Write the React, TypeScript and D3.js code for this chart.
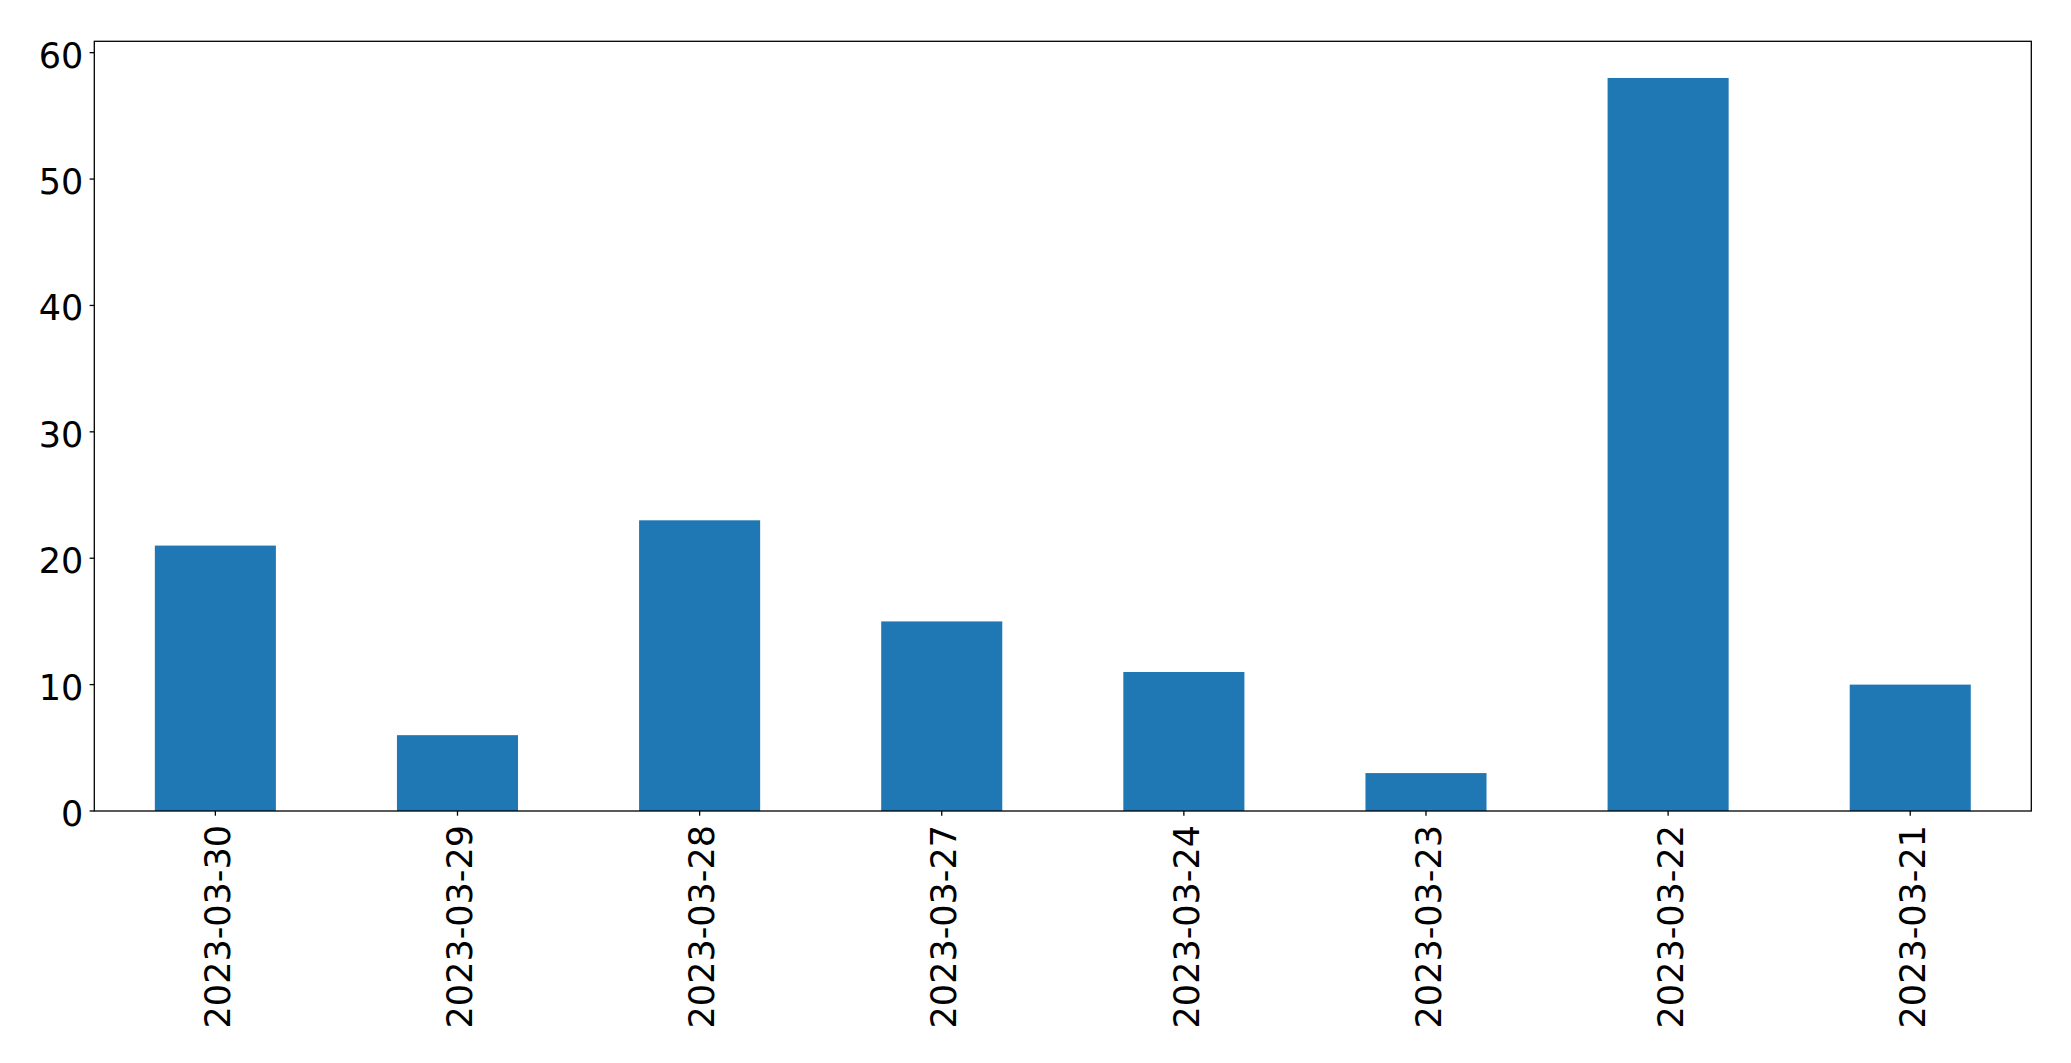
import React from "react";
import * as d3 from "d3";

const categories = ["2023-03-30", "2023-03-29", "2023-03-28", "2023-03-27", "2023-03-24", "2023-03-23", "2023-03-22", "2023-03-21"];
const values = [21, 6, 23, 15, 11, 3, 58, 10];
const yTicks = [0, 10, 20, 30, 40, 50, 60];

const W = 2071;
const H = 1063;
const left = 94.3;
const right = 2031.3;
const top = 41.3;
const bottom = 811;
const FONT = "DejaVu Sans, sans-serif";
const FS = 35;

export default function App() {
  const yMax = d3.max(values)! * 1.05;
  const x = d3.scaleLinear().domain([-0.5, categories.length - 0.5]).range([left, right]);
  const y = d3.scaleLinear().domain([0, yMax]).range([bottom, top]);
  const barW = 0.5;
  return (
    <svg width={W} height={H} style={{ position: "absolute", left: 0, top: 0, background: "#fff" }}>
      <rect x={0} y={0} width={W} height={H} fill="#fff" />
      {values.map((v, i) => (
        <rect key={i} x={x(i - barW / 2)} y={y(v)} width={x(i + barW / 2) - x(i - barW / 2)} height={y(0) - y(v)} fill="#1f77b4" />
      ))}
      <rect x={left} y={top} width={right - left} height={bottom - top} fill="none" stroke="#000" strokeWidth={1.3} />
      {yTicks.map((t) => (
        <g key={t}>
          <line x1={left - 4.7} x2={left} y1={y(t)} y2={y(t)} stroke="#000" strokeWidth={1.3} />
          <text x={left - 11} y={y(t)} dy="0.43em" textAnchor="end" fontFamily={FONT} fontSize={FS} fill="#000">
            {t}
          </text>
        </g>
      ))}
      {categories.map((c, i) => (
        <g key={c}>
          <line x1={x(i)} x2={x(i)} y1={bottom} y2={bottom + 4.7} stroke="#000" strokeWidth={1.3} />
          <text
            transform={`translate(${x(i)},${bottom + 14}) rotate(-90)`}
            textAnchor="end"
            dy="0.42em"
            fontFamily={FONT}
            fontSize={FS}
            fill="#000"
          >
            {c}
          </text>
        </g>
      ))}
    </svg>
  );
}
